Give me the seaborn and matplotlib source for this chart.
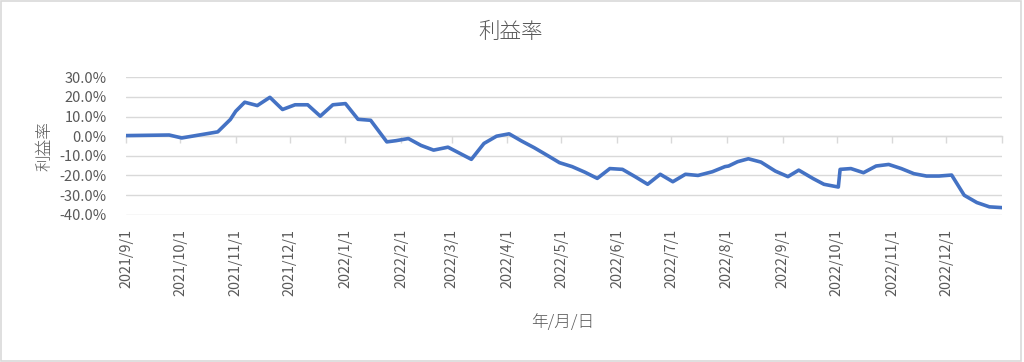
import matplotlib
matplotlib.use("Agg")
import matplotlib.pyplot as plt
import matplotlib.dates as mdates
from matplotlib.ticker import FuncFormatter, FixedLocator
from matplotlib.patches import Rectangle
import seaborn as sns
import pandas as pd
import numpy as np

dates = [
    "2021-09-01", "2021-09-25", "2021-10-02", "2021-10-22", "2021-10-29", "2021-11-01",
    "2021-11-06", "2021-11-13", "2021-11-20", "2021-11-27", "2021-12-04", "2021-12-11",
    "2021-12-18", "2021-12-25", "2022-01-01", "2022-01-08", "2022-01-15", "2022-01-24",
    "2022-01-29", "2022-02-05", "2022-02-12", "2022-02-19", "2022-02-27", "2022-03-12",
    "2022-03-19", "2022-03-26", "2022-04-02", "2022-04-09", "2022-04-16", "2022-04-24",
    "2022-04-30", "2022-05-07", "2022-05-14", "2022-05-21", "2022-05-28", "2022-06-04",
    "2022-06-11", "2022-06-18", "2022-06-25", "2022-07-02", "2022-07-09", "2022-07-16",
    "2022-07-24", "2022-07-31", "2022-08-02", "2022-08-07", "2022-08-13", "2022-08-20",
    "2022-08-28", "2022-09-04", "2022-09-10", "2022-09-18", "2022-09-24", "2022-10-02",
    "2022-10-03", "2022-10-09", "2022-10-16", "2022-10-23", "2022-10-30", "2022-11-06",
    "2022-11-13", "2022-11-20", "2022-11-27", "2022-12-04", "2022-12-11", "2022-12-18",
    "2022-12-25", "2023-01-01",
]
profit_rate = [
    0.003, 0.006, -0.009, 0.022, 0.085, 0.127,
    0.173, 0.156, 0.198, 0.136, 0.160, 0.160,
    0.102, 0.160, 0.166, 0.086, 0.081, -0.029,
    -0.023, -0.012, -0.047, -0.071, -0.056, -0.118,
    -0.037, 0.000, 0.012, -0.025, -0.059, -0.102,
    -0.135, -0.155, -0.183, -0.215, -0.165, -0.169,
    -0.206, -0.245, -0.194, -0.232, -0.194, -0.200,
    -0.181, -0.155, -0.152, -0.130, -0.115, -0.132,
    -0.178, -0.206, -0.173, -0.216, -0.245, -0.259,
    -0.169, -0.165, -0.186, -0.152, -0.144, -0.165,
    -0.191, -0.203, -0.203, -0.198, -0.301, -0.338,
    -0.360, -0.364,
]
month_ticks = pd.date_range("2021-09-01", "2022-12-01", freq="MS")
tick_labels = [f"{d.year}/{d.month}/{d.day}" for d in month_ticks]
y_ticks = [-0.4, -0.3, -0.2, -0.1, 0.0, 0.1, 0.2, 0.3]

df = pd.DataFrame({"date": pd.to_datetime(dates), "rate": profit_rate})

sns.set_theme(style="white")
plt.rcParams["font.family"] = ["Noto Sans CJK JP", "DejaVu Sans"]
TXT = "#595959"
GRID = "#d9d9d9"

fig = plt.figure(figsize=(10.24, 3.62), dpi=100)
ax = fig.add_axes([126 / 1024, 1 - 215 / 362, (1002 - 126) / 1024, (215 - 77) / 362])

sns.lineplot(data=df, x="date", y="rate", ax=ax, color="#4472C4", linewidth=2.6,
             solid_joinstyle="round", zorder=3)

ax.set_xlim(pd.Timestamp("2021-09-01"), pd.Timestamp("2023-01-01"))
ax.set_ylim(-0.4015, 0.3015)
ax.set_yticks(y_ticks)
ax.yaxis.set_major_formatter(FuncFormatter(lambda v, p: f"{v * 100:.1f}%"))
ax.grid(axis="y", color=GRID, linewidth=1.0, zorder=0)
ax.grid(axis="x", visible=False)
for s in ["top", "right", "left"]:
    ax.spines[s].set_visible(False)
ax.spines["bottom"].set_position(("data", 0))
ax.spines["bottom"].set_color(GRID)
ax.spines["bottom"].set_linewidth(1.0)

all_ticks = list(month_ticks) + [pd.Timestamp("2023-01-01")]
ax.xaxis.set_major_locator(FixedLocator(mdates.date2num(all_ticks)))
ax.tick_params(axis="x", which="major", direction="out", length=5, width=1.0,
               color=GRID, labelbottom=False, bottom=True)
ax.tick_params(axis="y", length=0, labelsize=10.5, labelcolor=TXT, pad=14)
ax.set_xlabel("")
ax.set_ylabel("利益率", color=TXT, fontsize=12, labelpad=4, fontweight="light")

sec = ax.secondary_xaxis("bottom")
sec.set_xticks(mdates.date2num(month_ticks))
sec.set_xticklabels(tick_labels, rotation=90, va="top", ha="center", color=TXT, fontsize=10.3)
sec.tick_params(axis="x", length=0, pad=10)
sec.spines["bottom"].set_visible(False)

fig.text(511 / 1024, 1 - 32 / 362, "利益率", ha="center", va="center", fontsize=15.5,
         color=TXT, fontweight="light")
fig.text(563 / 1024, 1 - 322 / 362, "年/月/日", ha="center", va="center", fontsize=12,
         color=TXT, fontweight="light")

fig.patches.append(Rectangle((0.001, 0.003), 0.996, 0.993, transform=fig.transFigure,
                             fill=False, edgecolor=GRID, linewidth=1.2))

fig.savefig("out.png", dpi=100)
